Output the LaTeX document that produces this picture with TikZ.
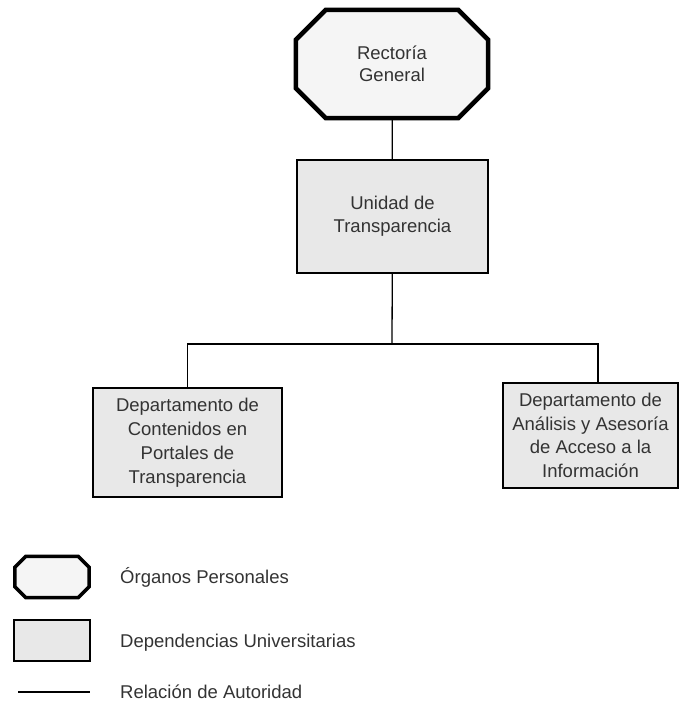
\documentclass[tikz,border=0pt]{standalone}
\usepackage{fontspec}
\setmainfont{Liberation Sans}
\usetikzlibrary{backgrounds}
\definecolor{boxfill}{gray}{0.91}
\definecolor{octfill}{gray}{0.96}
\definecolor{inktext}{gray}{0.2}
% borde octagonal alrededor de un nodo: #1 nodo, #2 corte en x, #3 corte en y, #4 grosor
\newcommand{\bordeorgano}[4]{%
  \begin{pgfonlayer}{background}
    \draw[line width=#4, fill=octfill, line join=miter]
      ([xshift=#2]#1.north west) -- ([xshift=-#2]#1.north east) --
      ([yshift=-#3]#1.north east) -- ([yshift=#3]#1.south east) --
      ([xshift=-#2]#1.south east) -- ([xshift=#2]#1.south west) --
      ([yshift=#3]#1.south west) -- ([yshift=-#3]#1.north west) -- cycle;
  \end{pgfonlayer}%
}
\begin{document}
\begin{tikzpicture}[
        x=1pt,
        y=-1pt,
        every node/.style={font=\fontsize{18.5}{23}\selectfont, text=inktext},
        organo/.style={rectangle, align=center, inner sep=0pt},
        dependencia/.style={rectangle, draw, line width=1.6pt, fill=boxfill, align=center, inner sep=0pt},
        autoridad/.style={line width=1.3pt},
        leyenda/.style={anchor=west, inner sep=0pt}
      ]
        \useasboundingbox (0,0) rectangle (682,713);

        \node[organo, minimum width=192pt, minimum height=108pt,
          font=\fontsize{18.5}{21.5}\selectfont] (rectoria) at (392,64) {Rectoría\\General};
        \bordeorgano{rectoria}{30pt}{30pt}{4.5pt}
        \node[dependencia, minimum width=191pt, minimum height=113pt] (unidad) at (392.5,216.5) {Unidad de\\Transparencia};
        \node[dependencia, minimum width=189pt, minimum height=109pt, font=\fontsize{18.5}{24}\selectfont]
          (contenidos) at (187.5,442.5) {Departamento de\\Contenidos en\\Portales de\\Transparencia};
        \node[dependencia, minimum width=175pt, minimum height=105pt, font=\fontsize{18.5}{23.5}\selectfont]
          (analisis) at (590.5,435.5) {Departamento de\\Análisis y Asesoría\\de Acceso a la\\Información};

        \coordinate (bus) at (392,344);
        \coordinate (tapder) at (598,383);
        \draw[autoridad] (rectoria) -- (unidad);
        \draw[autoridad] (unidad) -- (bus);
        \draw[autoridad] (contenidos.north) |- (bus) -| (tapder);

        % leyenda
        \node[organo, minimum width=74pt, minimum height=41pt] (legorgano) at (52,577) {};
        \bordeorgano{legorgano}{11pt}{11pt}{3.5pt}
        \node[leyenda] (txtorgano) at (120,577) {Órganos Personales};
        \node[dependencia, minimum width=76pt, minimum height=41pt] (legdep) at (52,640.5) {};
        \node[leyenda] (txtdep) at (120,643) {Dependencias Universitarias};
        \coordinate (legauta) at (18,692);
        \coordinate (legautb) at (90,692);
        \draw[autoridad] (legauta) -- (legautb);
        \node[leyenda] (txtaut) at (120,692) {Relación de Autoridad};
      \end{tikzpicture}
\end{document}
